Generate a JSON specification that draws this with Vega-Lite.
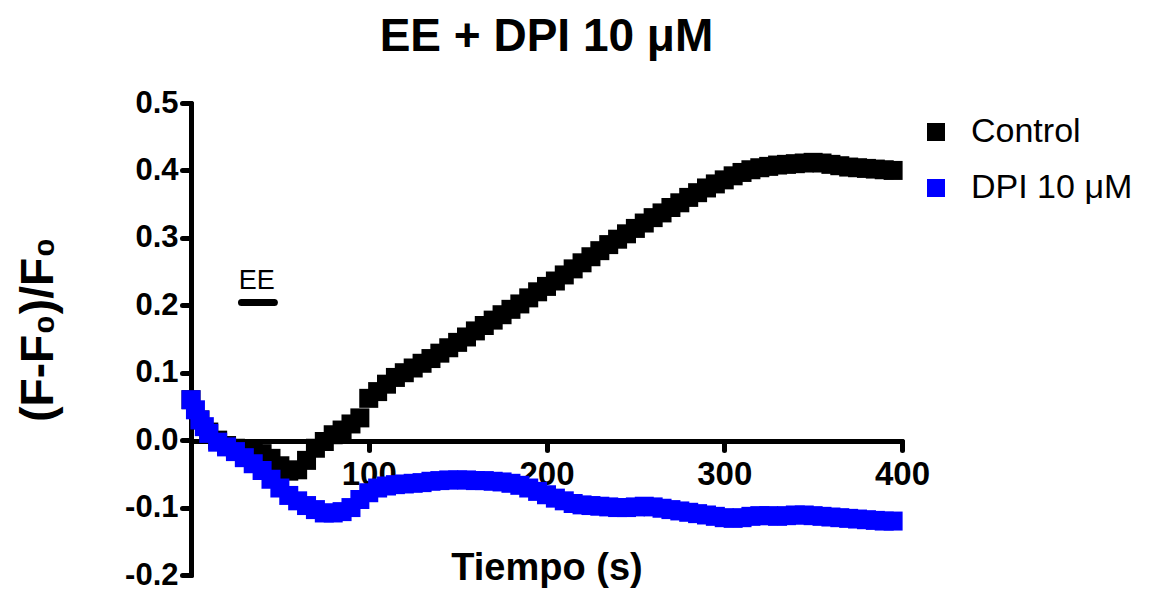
{
  "$schema": "https://vega.github.io/schema/vega-lite/v6.json",
  "width": 711,
  "height": 472,
  "autosize": {"type": "none"},
  "padding": {"left": 191, "top": 103, "right": 249, "bottom": 15},
  "background": "white",
  "config": {
    "font": "Liberation Sans",
    "view": {"stroke": null},
    "axis": {
      "domainColor": "black",
      "domainWidth": 5,
      "domainCap": "round",
      "tickColor": "black",
      "tickWidth": 5,
      "tickSize": 9,
      "tickCap": "round",
      "labelColor": "black",
      "labelFont": "Liberation Sans",
      "labelFontSize": 31,
      "labelFontWeight": "bold",
      "titleColor": "black",
      "titleFont": "Liberation Sans",
      "titleFontSize": 38,
      "titleFontWeight": "bold",
      "grid": false
    }
  },
  "title": {
    "text": "EE + DPI 10 μM",
    "fontSize": 46,
    "fontWeight": "bold",
    "color": "black",
    "anchor": "middle",
    "offset": 26
  },
  "datasets": {
    "senal": [
      {"t": 0, "serie": "Control", "v": 0.06},
      {"t": 5, "serie": "Control", "v": 0.03},
      {"t": 10, "serie": "Control", "v": 0.012},
      {"t": 15, "serie": "Control", "v": 0.0},
      {"t": 20, "serie": "Control", "v": -0.008},
      {"t": 25, "serie": "Control", "v": -0.012},
      {"t": 30, "serie": "Control", "v": -0.014},
      {"t": 35, "serie": "Control", "v": -0.016},
      {"t": 40, "serie": "Control", "v": -0.02},
      {"t": 45, "serie": "Control", "v": -0.027},
      {"t": 50, "serie": "Control", "v": -0.038},
      {"t": 55, "serie": "Control", "v": -0.046},
      {"t": 60, "serie": "Control", "v": -0.044},
      {"t": 65, "serie": "Control", "v": -0.03},
      {"t": 70, "serie": "Control", "v": -0.012},
      {"t": 75, "serie": "Control", "v": -0.002},
      {"t": 80, "serie": "Control", "v": 0.008},
      {"t": 85, "serie": "Control", "v": 0.015},
      {"t": 90, "serie": "Control", "v": 0.024},
      {"t": 95, "serie": "Control", "v": 0.033},
      {"t": 100, "serie": "Control", "v": 0.062},
      {"t": 105, "serie": "Control", "v": 0.072},
      {"t": 110, "serie": "Control", "v": 0.083},
      {"t": 115, "serie": "Control", "v": 0.093},
      {"t": 120, "serie": "Control", "v": 0.1},
      {"t": 125, "serie": "Control", "v": 0.107},
      {"t": 130, "serie": "Control", "v": 0.114},
      {"t": 135, "serie": "Control", "v": 0.121},
      {"t": 140, "serie": "Control", "v": 0.129},
      {"t": 145, "serie": "Control", "v": 0.137},
      {"t": 150, "serie": "Control", "v": 0.145},
      {"t": 155, "serie": "Control", "v": 0.153},
      {"t": 160, "serie": "Control", "v": 0.162},
      {"t": 165, "serie": "Control", "v": 0.17},
      {"t": 170, "serie": "Control", "v": 0.178},
      {"t": 175, "serie": "Control", "v": 0.186},
      {"t": 180, "serie": "Control", "v": 0.194},
      {"t": 185, "serie": "Control", "v": 0.202},
      {"t": 190, "serie": "Control", "v": 0.211},
      {"t": 195, "serie": "Control", "v": 0.22},
      {"t": 200, "serie": "Control", "v": 0.228},
      {"t": 205, "serie": "Control", "v": 0.236},
      {"t": 210, "serie": "Control", "v": 0.245},
      {"t": 215, "serie": "Control", "v": 0.254},
      {"t": 220, "serie": "Control", "v": 0.263},
      {"t": 225, "serie": "Control", "v": 0.272},
      {"t": 230, "serie": "Control", "v": 0.281},
      {"t": 235, "serie": "Control", "v": 0.29},
      {"t": 240, "serie": "Control", "v": 0.298},
      {"t": 245, "serie": "Control", "v": 0.306},
      {"t": 250, "serie": "Control", "v": 0.314},
      {"t": 255, "serie": "Control", "v": 0.322},
      {"t": 260, "serie": "Control", "v": 0.33},
      {"t": 265, "serie": "Control", "v": 0.337},
      {"t": 270, "serie": "Control", "v": 0.345},
      {"t": 275, "serie": "Control", "v": 0.352},
      {"t": 280, "serie": "Control", "v": 0.36},
      {"t": 285, "serie": "Control", "v": 0.367},
      {"t": 290, "serie": "Control", "v": 0.374},
      {"t": 295, "serie": "Control", "v": 0.38},
      {"t": 300, "serie": "Control", "v": 0.386},
      {"t": 305, "serie": "Control", "v": 0.392},
      {"t": 310, "serie": "Control", "v": 0.397},
      {"t": 315, "serie": "Control", "v": 0.401},
      {"t": 320, "serie": "Control", "v": 0.404},
      {"t": 325, "serie": "Control", "v": 0.406},
      {"t": 330, "serie": "Control", "v": 0.408},
      {"t": 335, "serie": "Control", "v": 0.409},
      {"t": 340, "serie": "Control", "v": 0.41},
      {"t": 345, "serie": "Control", "v": 0.411},
      {"t": 350, "serie": "Control", "v": 0.412},
      {"t": 355, "serie": "Control", "v": 0.411},
      {"t": 360, "serie": "Control", "v": 0.409},
      {"t": 365, "serie": "Control", "v": 0.407},
      {"t": 370, "serie": "Control", "v": 0.405},
      {"t": 375, "serie": "Control", "v": 0.404},
      {"t": 380, "serie": "Control", "v": 0.403},
      {"t": 385, "serie": "Control", "v": 0.402},
      {"t": 390, "serie": "Control", "v": 0.401},
      {"t": 395, "serie": "Control", "v": 0.4},
      {"t": 0, "serie": "DPI 10 μM", "v": 0.06},
      {"t": 2.5, "serie": "DPI 10 μM", "v": 0.045},
      {"t": 5, "serie": "DPI 10 μM", "v": 0.03},
      {"t": 7.5, "serie": "DPI 10 μM", "v": 0.02},
      {"t": 10, "serie": "DPI 10 μM", "v": 0.01},
      {"t": 15, "serie": "DPI 10 μM", "v": -0.003},
      {"t": 20, "serie": "DPI 10 μM", "v": -0.01},
      {"t": 25, "serie": "DPI 10 μM", "v": -0.017},
      {"t": 30, "serie": "DPI 10 μM", "v": -0.026},
      {"t": 35, "serie": "DPI 10 μM", "v": -0.035},
      {"t": 40, "serie": "DPI 10 μM", "v": -0.045},
      {"t": 45, "serie": "DPI 10 μM", "v": -0.058},
      {"t": 50, "serie": "DPI 10 μM", "v": -0.071},
      {"t": 55, "serie": "DPI 10 μM", "v": -0.082},
      {"t": 60, "serie": "DPI 10 μM", "v": -0.09},
      {"t": 65, "serie": "DPI 10 μM", "v": -0.097},
      {"t": 70, "serie": "DPI 10 μM", "v": -0.103},
      {"t": 75, "serie": "DPI 10 μM", "v": -0.108},
      {"t": 80, "serie": "DPI 10 μM", "v": -0.108},
      {"t": 85, "serie": "DPI 10 μM", "v": -0.106},
      {"t": 90, "serie": "DPI 10 μM", "v": -0.1},
      {"t": 95, "serie": "DPI 10 μM", "v": -0.088},
      {"t": 100, "serie": "DPI 10 μM", "v": -0.078},
      {"t": 105, "serie": "DPI 10 μM", "v": -0.071},
      {"t": 110, "serie": "DPI 10 μM", "v": -0.068},
      {"t": 115, "serie": "DPI 10 μM", "v": -0.066},
      {"t": 120, "serie": "DPI 10 μM", "v": -0.065},
      {"t": 125, "serie": "DPI 10 μM", "v": -0.064},
      {"t": 130, "serie": "DPI 10 μM", "v": -0.063},
      {"t": 135, "serie": "DPI 10 μM", "v": -0.061},
      {"t": 140, "serie": "DPI 10 μM", "v": -0.06},
      {"t": 145, "serie": "DPI 10 μM", "v": -0.059},
      {"t": 150, "serie": "DPI 10 μM", "v": -0.059},
      {"t": 155, "serie": "DPI 10 μM", "v": -0.059},
      {"t": 160, "serie": "DPI 10 μM", "v": -0.06},
      {"t": 165, "serie": "DPI 10 μM", "v": -0.06},
      {"t": 170, "serie": "DPI 10 μM", "v": -0.061},
      {"t": 175, "serie": "DPI 10 μM", "v": -0.062},
      {"t": 180, "serie": "DPI 10 μM", "v": -0.064},
      {"t": 185, "serie": "DPI 10 μM", "v": -0.067},
      {"t": 190, "serie": "DPI 10 μM", "v": -0.071},
      {"t": 195, "serie": "DPI 10 μM", "v": -0.076},
      {"t": 200, "serie": "DPI 10 μM", "v": -0.081},
      {"t": 205, "serie": "DPI 10 μM", "v": -0.086},
      {"t": 210, "serie": "DPI 10 μM", "v": -0.09},
      {"t": 215, "serie": "DPI 10 μM", "v": -0.094},
      {"t": 220, "serie": "DPI 10 μM", "v": -0.096},
      {"t": 225, "serie": "DPI 10 μM", "v": -0.097},
      {"t": 230, "serie": "DPI 10 μM", "v": -0.098},
      {"t": 235, "serie": "DPI 10 μM", "v": -0.099},
      {"t": 240, "serie": "DPI 10 μM", "v": -0.1},
      {"t": 245, "serie": "DPI 10 μM", "v": -0.1},
      {"t": 250, "serie": "DPI 10 μM", "v": -0.099},
      {"t": 255, "serie": "DPI 10 μM", "v": -0.098},
      {"t": 260, "serie": "DPI 10 μM", "v": -0.099},
      {"t": 265, "serie": "DPI 10 μM", "v": -0.101},
      {"t": 270, "serie": "DPI 10 μM", "v": -0.103},
      {"t": 275, "serie": "DPI 10 μM", "v": -0.105},
      {"t": 280, "serie": "DPI 10 μM", "v": -0.107},
      {"t": 285, "serie": "DPI 10 μM", "v": -0.109},
      {"t": 290, "serie": "DPI 10 μM", "v": -0.111},
      {"t": 295, "serie": "DPI 10 μM", "v": -0.113},
      {"t": 300, "serie": "DPI 10 μM", "v": -0.115},
      {"t": 305, "serie": "DPI 10 μM", "v": -0.116},
      {"t": 310, "serie": "DPI 10 μM", "v": -0.115},
      {"t": 315, "serie": "DPI 10 μM", "v": -0.113},
      {"t": 320, "serie": "DPI 10 μM", "v": -0.112},
      {"t": 325, "serie": "DPI 10 μM", "v": -0.112},
      {"t": 330, "serie": "DPI 10 μM", "v": -0.113},
      {"t": 335, "serie": "DPI 10 μM", "v": -0.112},
      {"t": 340, "serie": "DPI 10 μM", "v": -0.111},
      {"t": 345, "serie": "DPI 10 μM", "v": -0.111},
      {"t": 350, "serie": "DPI 10 μM", "v": -0.112},
      {"t": 355, "serie": "DPI 10 μM", "v": -0.113},
      {"t": 360, "serie": "DPI 10 μM", "v": -0.114},
      {"t": 365, "serie": "DPI 10 μM", "v": -0.115},
      {"t": 370, "serie": "DPI 10 μM", "v": -0.116},
      {"t": 375, "serie": "DPI 10 μM", "v": -0.117},
      {"t": 380, "serie": "DPI 10 μM", "v": -0.118},
      {"t": 385, "serie": "DPI 10 μM", "v": -0.119},
      {"t": 390, "serie": "DPI 10 μM", "v": -0.12},
      {"t": 395, "serie": "DPI 10 μM", "v": -0.12}
    ]
  },
  "layer": [
    {
      "data": {"name": "senal"},
      "mark": {"type": "point", "shape": "square", "filled": true, "size": 361, "opacity": 1, "strokeWidth": 0},
      "encoding": {
        "x": {
          "field": "t",
          "type": "quantitative",
          "scale": {"domain": [0, 400], "nice": false},
          "axis": {
            "values": [100, 200, 300, 400],
            "offset": -134,
            "labelPadding": 8,
            "labelFlush": false,
            "labelFontSize": 33,
            "title": "Tiempo (s)",
            "titleBaseline": "alphabetic",
            "titleY": 138
          }
        },
        "y": {
          "field": "v",
          "type": "quantitative",
          "scale": {"domain": [-0.2, 0.5], "nice": false, "zero": false},
          "axis": {
            "values": [-0.2, -0.1, 0, 0.1, 0.2, 0.3, 0.4, 0.5],
            "labelExpr": "replace(format(datum.value, '.1f'), '\u2212', '-')",
            "labelPadding": 4,
            "labelFlush": false,
            "title": "(F-F₀)/F₀",
            "titleFontSize": 46,
            "titleAngle": -90,
            "titleBaseline": "middle",
            "titleAlign": "center",
            "titleX": -153,
            "titleY": 226
          }
        },
        "color": {
          "field": "serie",
          "type": "nominal",
          "sort": null,
          "scale": {"domain": ["Control", "DPI 10 μM"], "range": ["#000000", "#0000ff"]},
          "legend": {
            "title": null,
            "orient": "none",
            "legendX": 728,
            "legendY": 12,
            "symbolType": "square",
            "symbolSize": 324,
            "symbolStrokeWidth": 0,
            "labelFontSize": 34,
            "labelFont": "Liberation Sans",
            "labelColor": "black",
            "labelLimit": 400,
            "labelOffset": 18,
            "rowPadding": 22
          }
        }
      }
    },
    {
      "data": {"values": [{"t": 28.4, "t2": 46.9, "v": 0.204}]},
      "mark": {"type": "rule", "color": "black", "strokeWidth": 7, "strokeCap": "round"},
      "encoding": {
        "x": {"field": "t", "type": "quantitative"},
        "x2": {"field": "t2"},
        "y": {"field": "v", "type": "quantitative"}
      }
    },
    {
      "data": {"values": [{"t": 37, "v": 0.224, "etiqueta": "EE"}]},
      "mark": {"type": "text", "font": "Liberation Sans", "fontSize": 27, "color": "black", "align": "center", "baseline": "alphabetic"},
      "encoding": {
        "x": {"field": "t", "type": "quantitative"},
        "y": {"field": "v", "type": "quantitative"},
        "text": {"field": "etiqueta"}
      }
    }
  ]
}
